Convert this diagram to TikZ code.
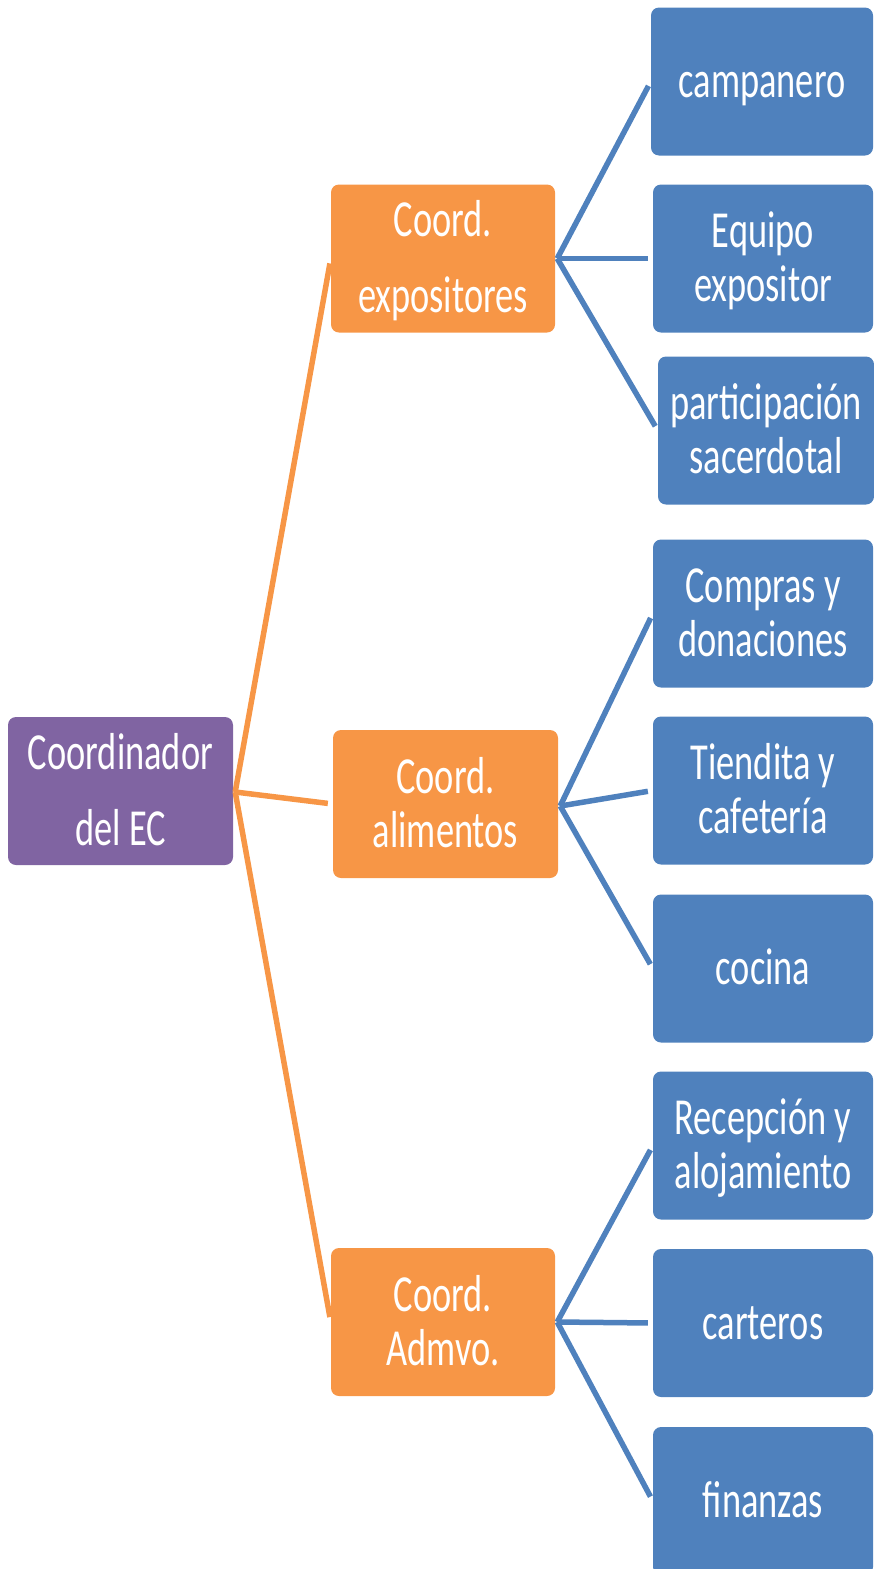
\documentclass[tikz,border=0pt]{standalone}
\usepackage{fontspec}
\setmainfont{Carlito}[FakeStretch=0.70]
\definecolor{cpurple}{HTML}{8064A2}
\definecolor{corange}{HTML}{F79646}
\definecolor{cblue}{HTML}{4F81BD}
\newcommand\sst{\rule[-9pt]{0pt}{50pt}}
\tikzset{
  box/.style={rectangle, rounded corners=8pt, minimum height=148pt, text=white,
    font=\fontsize{52}{54}\selectfont, align=center, inner sep=0pt, draw=none},
  widespace/.style={font=\fontsize{52}{76}\selectfont},
  purplebox/.style={box, fill=cpurple, minimum width=225pt},
  orangebox/.style={box, fill=corange, minimum width=224pt},
  bluebox/.style={box, fill=cblue, minimum width=220pt},
  oline/.style={draw=corange, line width=5.5pt, shorten >=5pt},
  bline/.style={draw=cblue, line width=5.5pt, shorten >=5pt},
}
\begin{document}
\begin{tikzpicture}[x=1pt,y=-1pt]
\useasboundingbox (0,0) rectangle (874,1569);
\clip (0,0) rectangle (874,1569);
\node[purplebox, widespace] (root) at (120.5,791) {\sst Coordinador\\\sst del EC};
\node[orangebox, widespace] (o1) at (443,258.5) {\sst Coord.\\\sst expositores};
\node[orangebox, minimum width=225pt] (o2) at (445.5,804) {\sst Coord.\\\sst alimentos};
\node[orangebox] (o3) at (443,1322) {\sst Coord.\\\sst Admvo.};
\node[bluebox, minimum width=222pt] (b1) at (762,81.5) {\sst campanero};
\node[bluebox] (b2) at (763,258.5) {\sst Equipo\\\sst expositor};
\node[bluebox, minimum width=216pt] (b3) at (766,430.5) {\sst participación\\\sst sacerdotal};
\node[bluebox] (b4) at (763,613.5) {\sst Compras y\\\sst donaciones};
\node[bluebox] (b5) at (763,790.5) {\sst Tiendita y\\\sst cafetería};
\node[bluebox] (b6) at (763,968.5) {\sst cocina};
\node[bluebox] (b7) at (763,1145.5) {\sst Recepción y\\\sst alojamiento};
\node[bluebox] (b8) at (763,1323) {\sst carteros};
\node[bluebox] (b9) at (763,1501) {\sst finanzas};
\coordinate (jr) at ([xshift=2pt,yshift=-1pt]root.east);
\coordinate (j1) at ([xshift=2pt]o1.east);
\coordinate (j2) at ([xshift=2pt,yshift=-2pt]o2.east);
\coordinate (j3) at ([xshift=2pt]o3.east);
\draw[oline] (jr) -- (o1.west);
\draw[oline] (jr) -- (o2.west);
\draw[oline] (jr) -- (o3.west);
\draw[bline] (j1) -- (b1.west);
\draw[bline] (j1) -- (b2.west);
\draw[bline] (j1) -- (b3.west);
\draw[bline] (j2) -- (b4.west);
\draw[bline] (j2) -- (b5.west);
\draw[bline] (j2) -- (b6.west);
\draw[bline] (j3) -- (b7.west);
\draw[bline] (j3) -- (b8.west);
\draw[bline] (j3) -- (b9.west);
\end{tikzpicture}
\end{document}
